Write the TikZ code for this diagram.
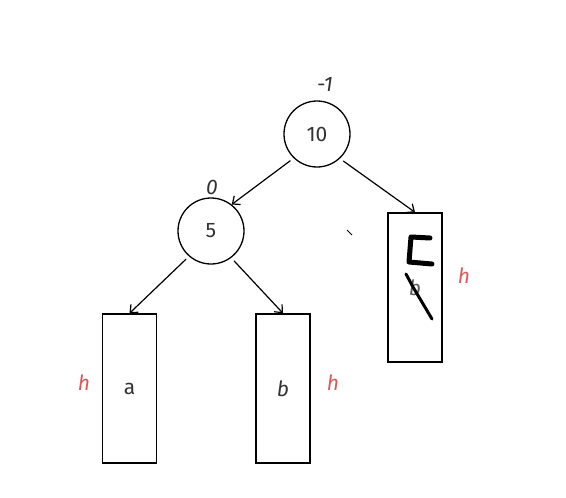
\documentclass[tikz,border=0pt]{standalone}
\usepackage{fontspec}
\setmainfont{Fira Sans}
\usetikzlibrary{arrows.meta}
\definecolor{txtgray}{RGB}{51,51,51}
\definecolor{hred}{RGB}{222,88,88}
\newcommand{\lblfont}{\fontsize{21}{24}\selectfont}
\tikzset{
  treearr/.style={-{Straight Barb[length=2.2mm,width=3.8mm]}, black, line width=1.2pt},
  knot/.style={circle, draw=black, line width=1.3pt, minimum size=66pt,
               inner sep=0pt, text=txtgray, font=\lblfont},
  subtree/.style={rectangle, draw=black, line width=1.4pt, minimum width=54pt,
                  minimum height=149pt, inner sep=0pt, text=txtgray, font=\lblfont},
  hlab/.style={hred, font=\itshape\lblfont},
  ballab/.style={txtgray, font=\itshape\lblfont},
  scrib/.style={black, line width=5pt, line join=round, line cap=round},
}

\begin{document}
\begin{tikzpicture}[x=1pt, y=-1pt]
  \useasboundingbox (0,0) rectangle (566,498);
  \node[knot] (n10) at (317,134) {10};
  \node[knot] (n5) at (211,231) {5};
  \node[subtree] (ta) at (129.5,388.5) {a};
  \node[subtree] (tb) at (283,388.5) {\itshape b};
  \node[subtree, text=txtgray!80] (tr) at (415,287.5) {\itshape b};
  \node[ballab] (bal10) at (325,84) {-1};
  \node[ballab] (bal5) at (212,187) {0};
  \node[hlab] (ha) at (84,383) {h};
  \node[hlab] (hb) at (333,383) {h};
  \node[hlab] (hr) at (464,276) {h};
  \draw[treearr, shorten <=4pt] (n10.-134) -- (n5.52);
  \draw[treearr, shorten <=4pt] (n10.-47) -- (tr.north);
  \draw[treearr, shorten <=4pt] (n5.-131) -- (ta.north);
  \draw[treearr, shorten <=4pt] (n5.-53) -- (tb.north);
  \draw[scrib] (430,238) -- (411,237) -- (409,262) -- (432,264);
  \draw[scrib, line width=3pt] (406,274) -- (413,287) -- (432,319);
  \draw[black, line width=1pt] (347,230) -- (352,235);
\end{tikzpicture}
\end{document}
